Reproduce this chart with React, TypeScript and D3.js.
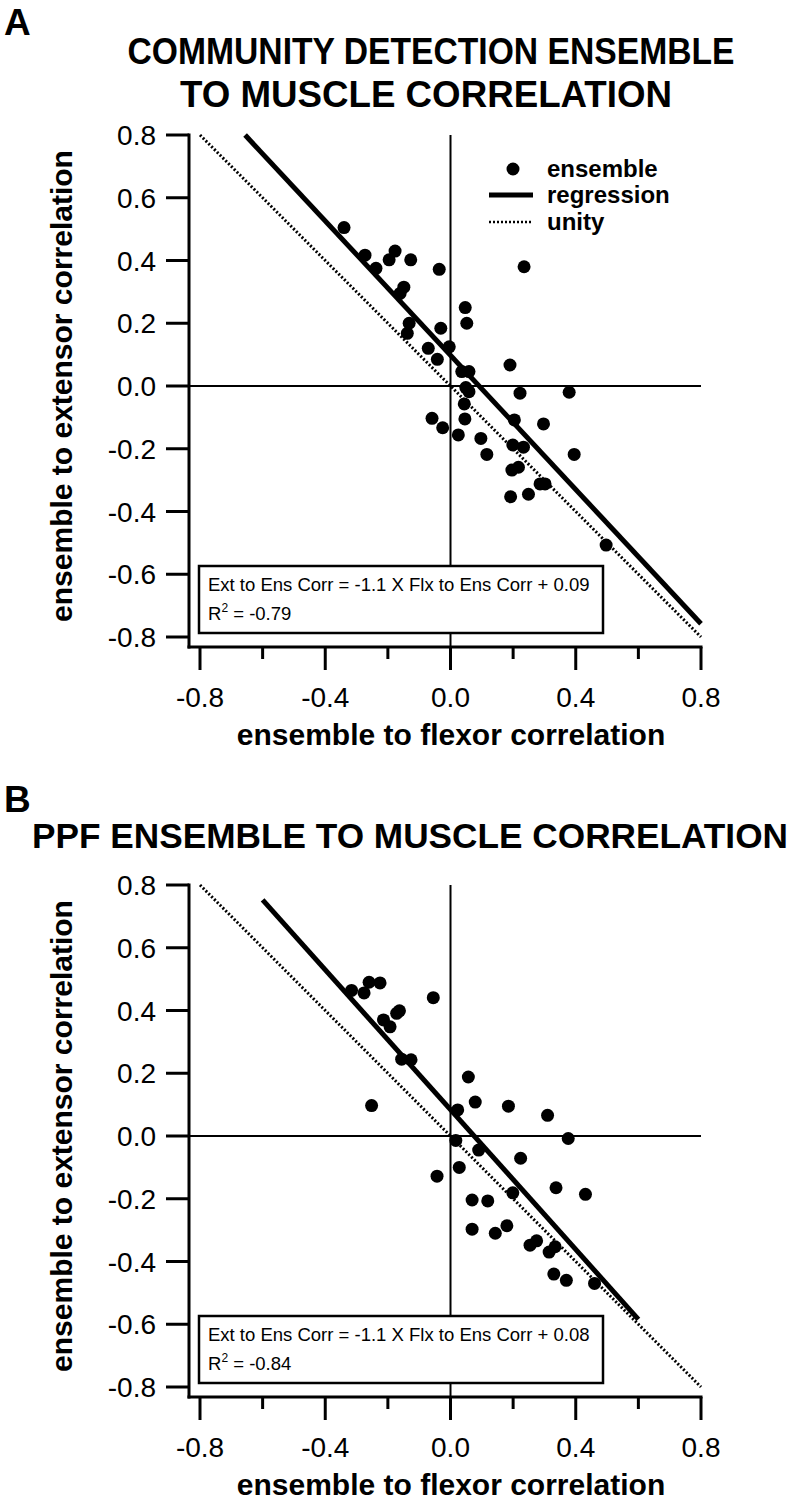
import React from "react";
import * as d3 from "d3";

// ---------- data ----------
const TICK_VALUES = [-0.8, -0.6, -0.4, -0.2, 0, 0.2, 0.4, 0.6, 0.8];
const X_MAJOR = [-0.8, -0.4, 0, 0.4, 0.8];
const X_MINOR = [-0.6, -0.2, 0.2, 0.6];

const flexA = [
  -0.340, -0.273, -0.238, -0.177, -0.196, -0.127, -0.036, -0.149, -0.161, 0.047,
  0.052, -0.132, -0.138, -0.031, -0.004, -0.071, -0.042, 0.036, 0.059, 0.049,
  0.059, 0.235, 0.190, 0.222, 0.379, 0.044, 0.046, -0.059, -0.025, 0.025,
  0.204, 0.297, 0.097, 0.199, 0.233, 0.116, 0.395, 0.196, 0.217, 0.286,
  0.302, 0.192, 0.249, 0.497,
];
const extA = [
  0.505, 0.417, 0.375, 0.430, 0.402, 0.402, 0.372, 0.315, 0.295, 0.250,
  0.200, 0.200, 0.168, 0.184, 0.125, 0.120, 0.085, 0.046, 0.046, -0.005,
  -0.018, 0.380, 0.067, -0.023, -0.020, -0.057, -0.105, -0.103, -0.133, -0.156,
  -0.108, -0.121, -0.167, -0.188, -0.195, -0.218, -0.218, -0.268, -0.259, -0.312,
  -0.312, -0.353, -0.345, -0.507,
];

const flexB = [
  -0.316, -0.276, -0.260, -0.225, -0.055, -0.163, -0.172, -0.214, -0.193, -0.156,
  -0.126, -0.252, 0.057, 0.079, 0.185, 0.310, 0.023, 0.376, 0.017, 0.090,
  0.224, 0.028, -0.043, 0.337, 0.431, 0.199, 0.069, 0.119, 0.069, 0.143,
  0.180, 0.254, 0.275, 0.334, 0.315, 0.330, 0.370, 0.460,
];
const extB = [
  0.464, 0.456, 0.490, 0.488, 0.441, 0.399, 0.391, 0.370, 0.348, 0.245,
  0.243, 0.097, 0.188, 0.108, 0.095, 0.066, 0.083, -0.008, -0.014, -0.045,
  -0.071, -0.100, -0.128, -0.165, -0.186, -0.181, -0.204, -0.207, -0.297, -0.310,
  -0.286, -0.348, -0.334, -0.353, -0.370, -0.440, -0.460, -0.470,
];

const regA = { slope: -1.07, intercept: 0.098, from: -0.656, to: 0.8 };
const regB = { slope: -1.114, intercept: 0.084, from: -0.6, to: 0.6 };

const eqA = "Ext to Ens Corr = -1.1 X Flx to Ens Corr + 0.09";
const eqB = "Ext to Ens Corr = -1.1 X Flx to Ens Corr + 0.08";
const r2A = " = -0.79";
const r2B = " = -0.84";

const legendLabels = ["ensemble", "regression", "unity"];
const xLabel = "ensemble to flexor correlation";
const yLabel = "ensemble to extensor correlation";

const FONT = "'Liberation Sans', Arial, Helvetica, sans-serif";

type PanelProps = {
  top: number;
  flex: number[];
  ext: number[];
  reg: { slope: number; intercept: number; from: number; to: number };
  eq: string;
  r2: string;
  legend: boolean;
};

const fmt = (t: number) => (Math.abs(t) < 1e-9 ? "0.0" : t.toFixed(1));

function Panel({ top, flex, ext, reg, eq, r2, legend }: PanelProps) {
  const x = d3.scaleLinear().domain([-0.8, 0.8]).range([200, 701]);
  const y = d3.scaleLinear().domain([-0.8, 0.8]).range([top + 502, top]);
  const axisX = 189;
  const axisY = y(-0.8) + 10;
  const line = d3.line<[number, number]>().x((d) => x(d[0])).y((d) => y(d[1]));
  const regPts: [number, number][] = [
    [reg.from, reg.slope * reg.from + reg.intercept],
    [reg.to, reg.slope * reg.to + reg.intercept],
  ];
  const unityPts: [number, number][] = [
    [-0.8, 0.8],
    [0.8, -0.8],
  ];
  const boxTop = top + 431;
  const boxBottom = top + 498;

  return (
    <g>
      {/* zero lines */}
      <line x1={axisX} x2={x(0.8)} y1={y(0)} y2={y(0)} stroke="#000" strokeWidth={2} />
      <line x1={x(0)} x2={x(0)} y1={y(0.8)} y2={axisY} stroke="#000" strokeWidth={2} />
      {/* unity */}
      <path d={line(unityPts) || ""} stroke="#000" strokeWidth={3} strokeDasharray="2 2" fill="none" />
      {/* regression */}
      <path d={line(regPts) || ""} stroke="#000" strokeWidth={5} fill="none" />
      {/* points */}
      {flex.map((v, i) => (
        <circle key={i} cx={x(v)} cy={y(ext[i])} r={6.5} fill="#000" />
      ))}
      {/* legend */}
      {legend && (
        <g fontFamily={FONT} fontWeight="bold" fontSize={24}>
          <circle cx={513} cy={top + 34} r={6.5} fill="#000" />
          <text x={547} y={top + 42}>{legendLabels[0]}</text>
          <line x1={489} x2={533} y1={top + 60} y2={top + 60} stroke="#000" strokeWidth={5} />
          <text x={547} y={top + 68}>{legendLabels[1]}</text>
          <line x1={489} x2={533} y1={top + 87} y2={top + 87} stroke="#000" strokeWidth={2.6} strokeDasharray="2 2" />
          <text x={547} y={top + 95}>{legendLabels[2]}</text>
        </g>
      )}
      {/* text box */}
      <rect x={199} y={boxTop} width={404} height={boxBottom - boxTop} fill="#fff" stroke="#000" strokeWidth={2.5} />
      <text x={208} y={boxTop + 25} fontFamily={FONT} fontSize={18.5}>{eq}</text>
      <text x={208} y={boxTop + 54} fontFamily={FONT} fontSize={18.5}>
        R<tspan dy={-8} fontSize={12}>2</tspan>
        <tspan dy={8}>{r2}</tspan>
      </text>
      {/* y axis */}
      <line x1={axisX} x2={axisX} y1={y(0.8) - 1.5} y2={axisY + 1.5} stroke="#000" strokeWidth={3} />
      {TICK_VALUES.map((t) => (
        <g key={"yt" + t}>
          <line x1={166} x2={axisX} y1={y(t)} y2={y(t)} stroke="#000" strokeWidth={3} />
          <text x={156} y={y(t)} dy="0.36em" textAnchor="end" fontFamily={FONT} fontSize={28}>
            {fmt(t)}
          </text>
        </g>
      ))}
      {/* x axis */}
      <line x1={axisX - 1.5} x2={x(0.8) + 1.5} y1={axisY} y2={axisY} stroke="#000" strokeWidth={3} />
      {X_MAJOR.map((t) => (
        <g key={"xt" + t}>
          <line x1={x(t)} x2={x(t)} y1={axisY} y2={axisY + 23} stroke="#000" strokeWidth={3} />
          <text x={x(t)} y={axisY + 60} textAnchor="middle" fontFamily={FONT} fontSize={28}>
            {fmt(t)}
          </text>
        </g>
      ))}
      {X_MINOR.map((t) => (
        <line key={"xm" + t} x1={x(t)} x2={x(t)} y1={axisY} y2={axisY + 12} stroke="#000" strokeWidth={3} />
      ))}
      <text x={451} y={axisY + 98} textAnchor="middle" fontFamily={FONT} fontWeight="bold" fontSize={30}>
        {xLabel}
      </text>
      <text
        transform={`translate(72, ${(y(0.8) + y(-0.8)) / 2}) rotate(-90)`}
        textAnchor="middle"
        fontFamily={FONT}
        fontWeight="bold"
        fontSize={30}
      >
        {yLabel}
      </text>
    </g>
  );
}

export default function App() {
  return (
    <svg width={801} height={1510} style={{ display: "block", position: "absolute", left: 0, top: 0, background: "#fff" }}>
      <rect width={801} height={1510} fill="#fff" />
      <text x={4} y={35} fontFamily={FONT} fontWeight="bold" fontSize={37}>A</text>
      <text x={431} y={64} textAnchor="middle" fontFamily={FONT} fontWeight="bold" fontSize={37} textLength={607} lengthAdjust="spacingAndGlyphs">
        COMMUNITY DETECTION ENSEMBLE
      </text>
      <text x={426} y={107} textAnchor="middle" fontFamily={FONT} fontWeight="bold" fontSize={37} textLength={492} lengthAdjust="spacingAndGlyphs">
        TO MUSCLE CORRELATION
      </text>
      <Panel top={135} flex={flexA} ext={extA} reg={regA} eq={eqA} r2={r2A} legend={true} />

      <text x={4} y={812} fontFamily={FONT} fontWeight="bold" fontSize={37}>B</text>
      <text x={410} y={848} textAnchor="middle" fontFamily={FONT} fontWeight="bold" fontSize={35} textLength={756} lengthAdjust="spacingAndGlyphs">
        PPF ENSEMBLE TO MUSCLE CORRELATION
      </text>
      <Panel top={885} flex={flexB} ext={extB} reg={regB} eq={eqB} r2={r2B} legend={false} />
    </svg>
  );
}
